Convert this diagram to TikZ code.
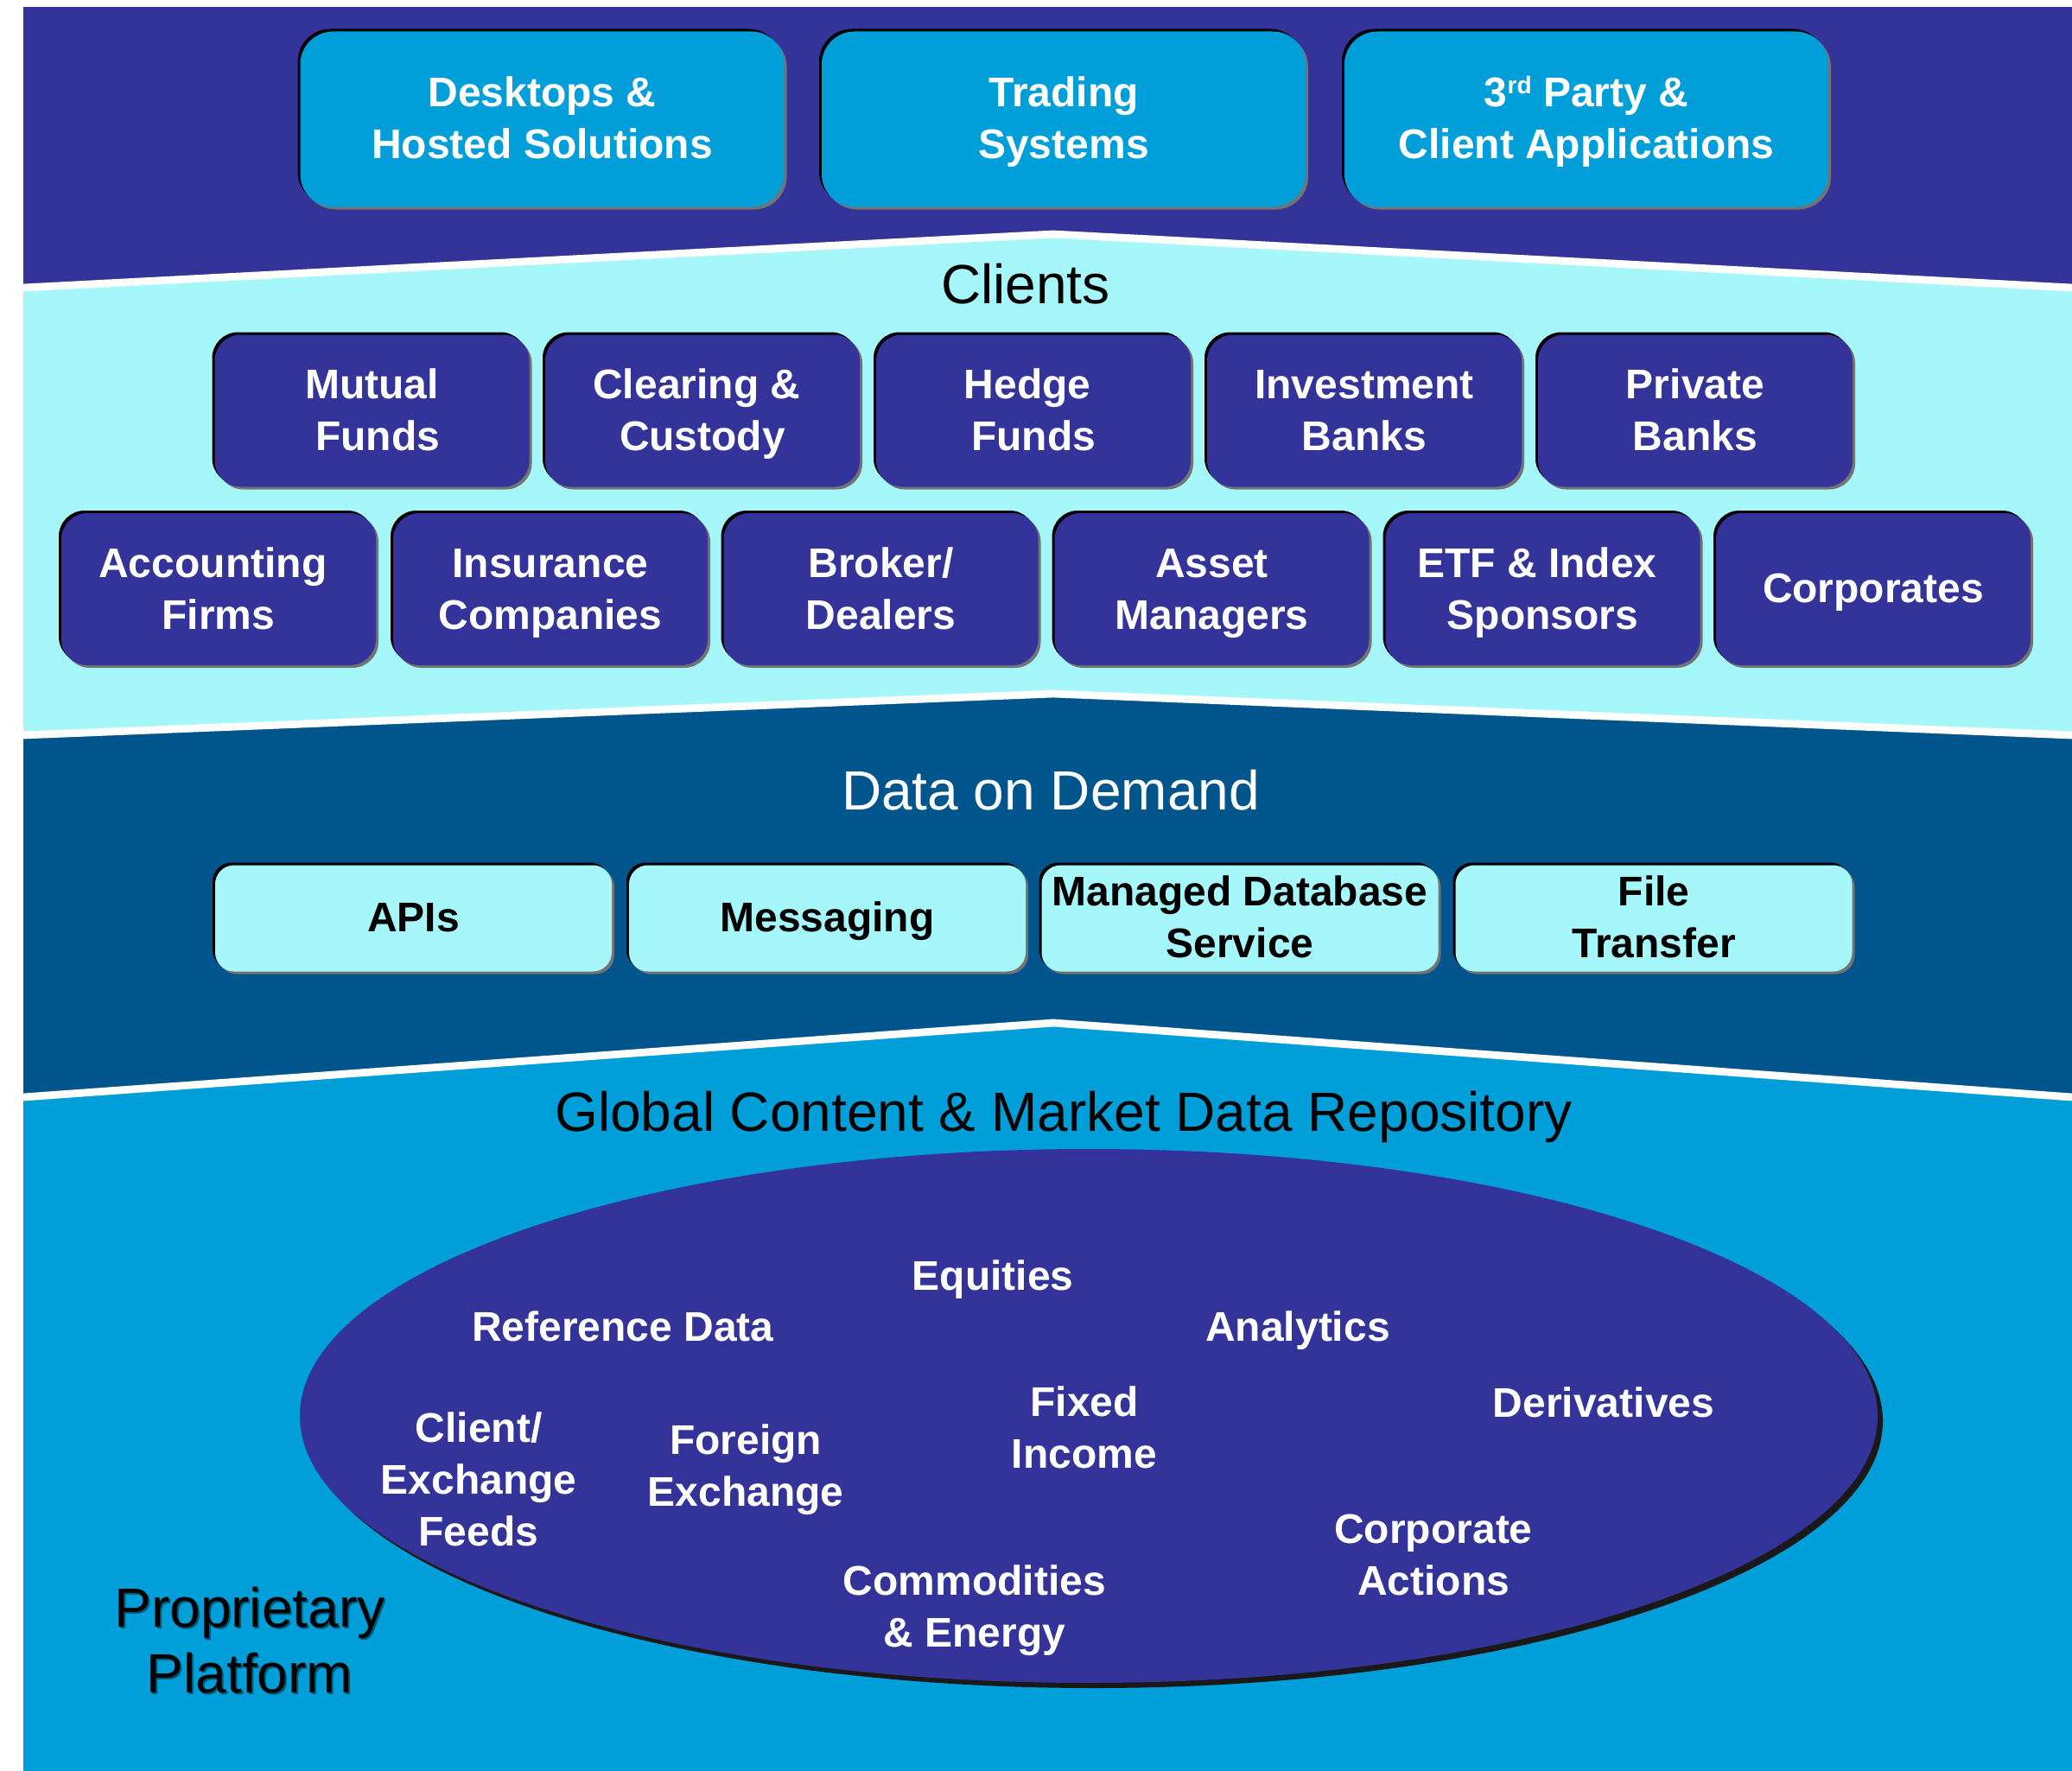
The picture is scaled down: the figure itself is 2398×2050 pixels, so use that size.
\documentclass[tikz,border=0pt]{standalone}
\usepackage{fontspec}
\setmainfont{Liberation Sans}
\usetikzlibrary{shadows,shapes.geometric}
\definecolor{royal}{HTML}{333399}
\definecolor{sky}{HTML}{009FD9}
\definecolor{pale}{HTML}{A6F7FA}
\definecolor{navy}{HTML}{00558C}
\newcommand{\tsp}{\hspace*{0.278em}\mbox{}}
\newcommand{\lstrut}{\rule[-7pt]{0pt}{29pt}}
\newcommand{\upa}{\rule{0pt}{23pt}}
\newcommand{\upb}{\rule{0pt}{22pt}}
\tikzset{
  x=0.5pt,y=-0.5pt,
  struts/.style={execute at end node=\lstrut},
  btn/.style={rectangle,rounded corners=15pt,inner sep=0pt,align=center,struts,
    font=\fontsize{24}{30}\selectfont\bfseries,
    general shadow={fill=black,shadow xshift=-1.5pt,shadow yshift=1.5pt},
    general shadow={fill=black!55!white,shadow xshift=1.5pt,shadow yshift=-1.5pt}},
  topbtn/.style={btn,fill=sky,text=white,minimum width=280pt,minimum height=101.5pt,rounded corners=19pt},
  clientbtn/.style={btn,fill=royal,text=white,minimum width=182pt,minimum height=88pt},
  databtn/.style={btn,fill=pale,text=black,minimum width=229.5pt,minimum height=61.5pt,rounded corners=11pt},
  item/.style={inner sep=0pt,align=center,struts,text=white,font=\fontsize{24}{30}\selectfont\bfseries},
  heading/.style={inner sep=0pt,align=center,text=black,font=\fontsize{32}{38}\selectfont},
  divider/.style={draw=white,line width=4.4pt,line join=miter},
}
\begin{document}
\begin{tikzpicture}
\useasboundingbox (0,0) rectangle (2398,2050);
% bands
\fill[royal] (27,8) rectangle (2398,340);
\fill[pale] (27,333) -- (1219,271) -- (2398,333) -- (2398,860) -- (27,860) -- cycle;
\fill[navy] (27,851) -- (1219,803) -- (2398,851) -- (2398,1280) -- (27,1280) -- cycle;
\fill[sky] (27,1270) -- (1219,1184) -- (2398,1270) -- (2398,2050) -- (27,2050) -- cycle;
\coordinate (a1) at (27,333); \coordinate (a2) at (1219,271); \coordinate (a3) at (2398,333);
\coordinate (b1) at (27,851); \coordinate (b2) at (1219,803); \coordinate (b3) at (2398,851);
\coordinate (c1) at (27,1270); \coordinate (c2) at (1219,1184); \coordinate (c3) at (2398,1270);
\draw[divider] (a1) -- (a2) -- (a3);
\draw[divider] (b1) -- (b2) -- (b3);
\draw[divider] (c1) -- (c2) -- (c3);
% top row
\node[topbtn] (desk) at (627.5,138) {\upa Desktops \&\\Hosted Solutions};
\node[topbtn] (trad) at (1231,138) {\upa Trading\\Systems};
\node[topbtn] (third) at (1836,138) {\upa 3\raisebox{7.5pt}{\fontsize{14}{14}\selectfont rd} Party \&\\Client Applications};
% clients
\node[heading] (clients) at (1187,329) {Clients};
\node[clientbtn] (mutual) at (430.5,475.5) {\upa Mutual\\\tsp Funds};
\node[clientbtn] (clearing) at (813,475.5) {\upa Clearing \&\tsp\\Custody};
\node[clientbtn] (hedge) at (1196,475.5) {\upa Hedge\tsp\\Funds};
\node[clientbtn] (invest) at (1579,475.5) {\upa Investment\\Banks};
\node[clientbtn] (private) at (1962,475.5) {\upa Private\\Banks};
\node[clientbtn] (account) at (253,682) {\upa Accounting\tsp\\Firms};
\node[clientbtn] (insur) at (637,682) {\upa Insurance\\Companies};
\node[clientbtn] (broker) at (1019.5,682) {\upa Broker/\\Dealers};
\node[clientbtn] (asset) at (1402.5,682) {\upa Asset\\Managers};
\node[clientbtn] (etf) at (1785.5,682) {\upa ETF \& Index\tsp\\Sponsors};
\node[clientbtn] (corp) at (2168,682) {Corporates};
% data on demand
\node[heading,text=white] (dod) at (1216,915) {Data on Demand};
\node[databtn] (apis) at (478.5,1063) {APIs};
\node[databtn] (msg) at (957.5,1063) {Messaging};
\node[databtn] (mds) at (1435,1063) {\upb Managed Database\\Service};
\node[databtn] (file) at (1914,1063) {\upb File\\Transfer};
% repository
\node[heading] (global) at (1231,1293) {Global Content \& Market Data Repository};
\node[ellipse,inner sep=0pt,fill=black!90!white,minimum width=913pt,minimum height=309pt] (ellshadow) at (1266,1645) {};
\node[ellipse,inner sep=0pt,fill=royal,minimum width=913pt,minimum height=309pt] (ell) at (1260,1639) {};
\node[item] (equities) at (1149,1478) {Equities};
\node[item] (refdata) at (721,1537) {Reference Data};
\node[item] (analytics) at (1502,1537) {Analytics};
\node[item] (feeds) at (554,1719) {Client/\\Exchange\\Feeds};
\node[item] (fx) at (863,1703) {Foreign\\Exchange};
\node[item] (fixed) at (1255,1659) {Fixed\\Income};
\node[item] (deriv) at (1856,1625) {Derivatives};
\node[item] (corpact) at (1659,1807) {Corporate\\Actions};
\node[item] (commod) at (1128,1866) {Commodities\\\& Energy};
\node[heading,text=black!45!sky] (propshadow) at (291,1901) {Proprietary\\Platform};
\node[heading] (prop) at (289,1899) {Proprietary\\Platform};
\end{tikzpicture}
\end{document}
